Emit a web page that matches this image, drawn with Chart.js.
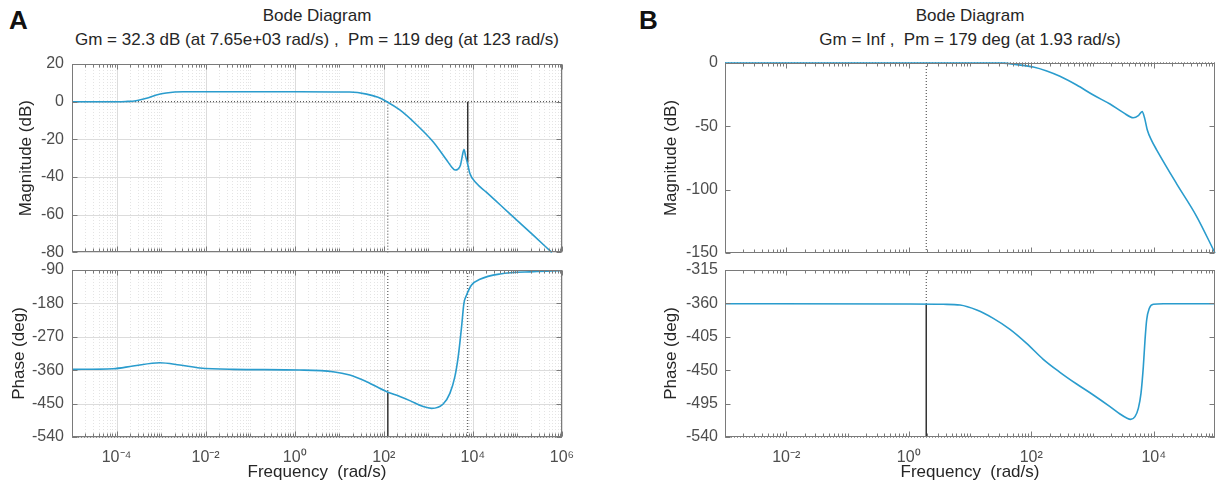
<!DOCTYPE html>
<html>
<head>
<meta charset="utf-8">
<script src="https://cdn.jsdelivr.net/npm/chart.js@4.4.1/dist/chart.umd.min.js"></script>
<style>
  body { margin: 0; background: #fff; width: 1216px; height: 491px; position: relative; overflow: hidden;
         font-family: "Liberation Sans", Arial, sans-serif; }
  canvas { position: absolute; }
  .ttl { position: absolute; color: #262626; font-size: 17px; line-height: 20px; white-space: pre; transform: translateX(-50%); }
  .tag { position: absolute; color: #111; font-size: 26px; line-height: 28px; font-weight: bold; }
</style>
</head>
<body>
<div class="tag" style="left:9px;top:6px">A</div>
<div class="ttl" style="left:317px;top:6px">Bode Diagram</div>
<div class="ttl" style="left:317px;top:30px">Gm = 32.3 dB (at 7.65e+03 rad/s) ,  Pm = 119 deg (at 123 rad/s)</div>
<div class="tag" style="left:639px;top:6px">B</div>
<div class="ttl" style="left:970px;top:6px">Bode Diagram</div>
<div class="ttl" style="left:970px;top:30px">Gm = Inf ,  Pm = 179 deg (at 1.93 rad/s)</div>

<canvas id="aMag" width="610" height="230" style="left:0;top:40px"></canvas>
<canvas id="aPhase" width="610" height="241" style="left:0;top:250px"></canvas>
<canvas id="bMag" width="606" height="230" style="left:610px;top:40px"></canvas>
<canvas id="bPhase" width="606" height="241" style="left:610px;top:250px"></canvas>

<script>
// ---- panel A data ----
const freqAMag = [1e-5, 1e-4, 1.6e-4, 2.75e-4, 4.7e-4, 7.8e-4, 1.3e-3, 3.1e-3, 1e-2, 1.3, 17, 41, 74, 117, 229, 537,
                  1290, 2570, 3300, 3980, 4500, 5250, 6030, 6310, 6920, 7590, 8510, 1.2e4, 2e4, 4.07e4, 2.29e5, 5.89e5];
const magA = [0, 0, 0.1, 0.5, 1.8, 3.5, 4.6, 5.3, 5.3, 5.3, 5.1, 4.0, 2.3, 0, -4.4, -12.1,
              -21.4, -31, -34.5, -36.3, -36.0, -33.7, -26.7, -25.4, -29.3, -32.8, -38, -43.3, -48, -54.7, -71, -80];
const freqAPh = [1e-5, 8.3e-5, 2.34e-4, 9.3e-4, 2.63e-3, 7.4e-3, 0.041, 1.3, 7.2, 17.2, 41, 117, 229, 384, 764, 1180,
                 2150, 3040, 3940, 4680, 5570, 6280, 7210, 9330, 1.44e4, 4.05e4, 2.27e5, 1e6];
const phaseA = [-357.7, -356, -348.7, -339.8, -346, -354, -357.7, -359.5, -364, -373, -391, -418, -431, -442, -458, -462.8,
                -451, -422.4, -377.5, -323.6, -242.8, -179.8, -157.4, -130.4, -115, -100.8, -94.5, -92];
const gmFreqA = 7650, gmA = 32.3, pmFreqA = 123, pmA = 119;

// ---- panel B data ----
const freqBMag = [1e-3, 1, 35, 58, 108, 179, 294, 551, 1032, 1930, 3190, 4630, 5600, 6460, 7110, 7850, 9250,
                  1.12e4, 2.34e4, 5e4, 1e5];
const magB = [0, 0, -0.1, -1.3, -3.2, -6.3, -10.5, -17.4, -25.3, -32.4, -39.2, -43.2, -41.6, -38.4, -43.7, -52.9, -61.3,
              -68.7, -95, -121, -150];
const freqBPh = [1e-3, 1, 3.67, 6.87, 12.9, 24, 45, 84, 157, 294, 551, 1032, 1930, 2810, 3610, 4200, 4940, 5600,
                 6190, 6760, 7200, 7660, 8470, 9840, 1.43e4, 1e5];
const phaseB = [-360.5, -360.8, -361.2, -362.2, -368.9, -380.1, -394.9, -413.8, -435.3, -452.8, -468.6, -483.4, -499.1,
                -509, -514.4, -516.2, -512.6, -501.4, -481.2, -445.2, -409.3, -382.4, -366.6, -361.2, -360.5, -360.5];
const pmFreqB = 1.93, pmB = 179;

// ---- ticks ----
const xTicksA = [1e-4, 1e-2, 1, 1e2, 1e4, 1e6];
const xTicksB = [1e-2, 1, 1e2, 1e4];
const magTicksA = [20, 0, -20, -40, -60, -80];
const phTicksA = [-90, -180, -270, -360, -450, -540];
const magTicksB = [0, -50, -100, -150];
const phTicksB = [-315, -360, -405, -450, -495, -540];

const curveColor = '#2a9ccd';
const tickColor = '#4d4d4d';
const labelColor = '#262626';
const boxColor = '#7a7a7a';

Chart.defaults.font.family = '"Liberation Sans", Arial, sans-serif';

function minorTicks(e0, e1, major) {
  const out = [];
  for (let e = e0; e <= e1; e++) {
    for (let k = 1; k < 10; k++) {
      const v = k * Math.pow(10, e);
      if (!major.some(m => Math.abs(Math.log10(m) - Math.log10(v)) < 1e-9)) out.push(v);
    }
  }
  return out;
}

const sup = {'-': '\u207B', '0': '\u2070', '1': '\u00B9', '2': '\u00B2', '3': '\u00B3', '4': '\u2074',
             '5': '\u2075', '6': '\u2076', '7': '\u2077', '8': '\u2078', '9': '\u2079'};
function powLabel(v) {
  return '10' + String(Math.round(Math.log10(v))).split('').map(c => sup[c]).join('');
}

function pts(xs, ys) { return xs.map((x, i) => ({x: x, y: ys[i]})); }

function curve(xs, ys) {
  return { data: pts(xs, ys), borderColor: curveColor, borderWidth: 1.6, pointRadius: 0,
           cubicInterpolationMode: 'monotone', clip: 3 };
}
function marker(p, solid) {
  return { data: p, borderColor: solid ? '#333' : '#3a3a3a', borderWidth: solid ? 1.5 : 1,
           borderDash: solid ? [] : [1, 2], pointRadius: 0, clip: 3 };
}

// box, inner ticks and (optional) grid like the matlab axes
const bodeBox = {
  id: 'bodeBox',
  beforeDatasetsDraw(chart, args, opts) {
    if (!opts.grid) return;
    const {ctx, chartArea: a, scales: {x, y}} = chart;
    ctx.save();
    ctx.lineWidth = 1;
    ctx.strokeStyle = '#e4e4e4';
    ctx.setLineDash([1, 2]);
    opts.minorX.forEach(v => {
      const px = Math.round(x.getPixelForValue(v)) + 0.5;
      ctx.beginPath(); ctx.moveTo(px, a.top); ctx.lineTo(px, a.bottom); ctx.stroke();
    });
    ctx.setLineDash([]);
    ctx.strokeStyle = '#dcdcdc';
    x.ticks.forEach(t => {
      const px = Math.round(x.getPixelForValue(t.value)) + 0.5;
      ctx.beginPath(); ctx.moveTo(px, a.top); ctx.lineTo(px, a.bottom); ctx.stroke();
    });
    y.ticks.forEach(t => {
      const py = Math.round(y.getPixelForValue(t.value)) + 0.5;
      ctx.beginPath(); ctx.moveTo(a.left, py); ctx.lineTo(a.right, py); ctx.stroke();
    });
    ctx.restore();
  },
  afterDatasetsDraw(chart, args, opts) {
    const {ctx, chartArea: a, scales: {x, y}} = chart;
    ctx.save();
    ctx.strokeStyle = boxColor;
    ctx.lineWidth = 1;
    const l = Math.round(a.left) + 0.5, r = Math.round(a.right) - 0.5;
    const t = Math.round(a.top) + 0.5, b = Math.round(a.bottom) - 0.5;
    ctx.strokeRect(l, t, r - l, b - t);
    ctx.beginPath();
    const vt = (v, len) => {
      const px = Math.round(x.getPixelForValue(v)) + 0.5;
      ctx.moveTo(px, b); ctx.lineTo(px, b - len);
      ctx.moveTo(px, t); ctx.lineTo(px, t + len);
    };
    x.ticks.forEach(tk => vt(tk.value, 5));
    opts.minorX.forEach(v => vt(v, 3));
    y.ticks.forEach(tk => {
      const py = Math.round(y.getPixelForValue(tk.value)) + 0.5;
      ctx.moveTo(l, py); ctx.lineTo(l + 5, py);
      ctx.moveTo(r, py); ctx.lineTo(r - 5, py);
    });
    ctx.stroke();
    ctx.restore();
  }
};

function bodeChart(id, o) {
  return new Chart(document.getElementById(id), {
    type: 'line',
    data: { datasets: o.datasets },
    options: {
      responsive: false,
      animation: false,
      events: [],
      layout: { padding: o.padding },
      plugins: {
        legend: { display: false },
        tooltip: { enabled: false },
        bodeBox: { grid: o.grid, minorX: o.minorX }
      },
      scales: {
        x: {
          type: 'logarithmic', min: o.xMin, max: o.xMax,
          afterBuildTicks: s => { s.ticks = o.xTicks.map(v => ({value: v})); },
          afterFit: s => { s.height = o.xHeight; },
          grid: { display: false, drawTicks: false },
          border: { display: false },
          ticks: { display: o.xLabels, autoSkip: false, maxRotation: 0, padding: 11,
                   color: tickColor, font: { size: 16 }, callback: v => powLabel(v) },
          title: { display: o.xLabels, text: 'Frequency  (rad/s)', color: labelColor,
                   font: { size: 17 }, padding: { top: 0, bottom: 8 } }
        },
        y: {
          type: 'linear', min: o.yMin, max: o.yMax,
          afterBuildTicks: s => { s.ticks = o.yTicks.map(v => ({value: v})); },
          afterFit: s => { s.width = o.yWidth; },
          grid: { display: false, drawTicks: false },
          border: { display: false },
          ticks: { padding: o.yPad, color: tickColor, font: { size: 16 } },
          title: { display: true, text: o.yTitle, color: labelColor, font: { size: 17 },
                   padding: { top: o.titlePad, bottom: 0 } }
        }
      }
    },
    plugins: [bodeBox]
  });
}

const minorA = minorTicks(-5, 5, xTicksA);
const minorB = minorTicks(-3, 4, xTicksB);
const pmPhaseA = -540 + pmA, pmPhaseB = -540 + pmB;

bodeChart('aMag', {
  datasets: [
    curve(freqAMag, magA),
    marker([{x: 1e-5, y: 0}, {x: 1e6, y: 0}]),
    marker([{x: pmFreqA, y: 0}, {x: pmFreqA, y: -80}]),
    marker([{x: gmFreqA, y: 0}, {x: gmFreqA, y: -gmA}], true),
    marker([{x: gmFreqA, y: -gmA}, {x: gmFreqA, y: -80}])
  ],
  xMin: 1e-5, xMax: 1e6, xTicks: xTicksA, minorX: minorA, xLabels: false, xHeight: 0,
  yMin: -80, yMax: 20, yTicks: magTicksA, yWidth: 72, yPad: 8, yTitle: 'Magnitude (dB)', titlePad: 16.5,
  padding: { left: 0, top: 24, right: 48, bottom: 16 }, grid: true
});

bodeChart('aPhase', {
  datasets: [
    curve(freqAPh, phaseA),
    marker([{x: pmFreqA, y: -90}, {x: pmFreqA, y: pmPhaseA}]),
    marker([{x: pmFreqA, y: pmPhaseA}, {x: pmFreqA, y: -540}], true),
    marker([{x: gmFreqA, y: -90}, {x: gmFreqA, y: -540}]),
    marker([{x: 1e-5, y: -540}, {x: 1e6, y: -540}])
  ],
  xMin: 1e-5, xMax: 1e6, xTicks: xTicksA, minorX: minorA, xLabels: true, xHeight: 54,
  yMin: -540, yMax: -90, yTicks: phTicksA, yWidth: 72, yPad: 8, yTitle: 'Phase (deg)', titlePad: 9,
  padding: { left: 0, top: 20, right: 48, bottom: 0 }, grid: true
});

bodeChart('bMag', {
  datasets: [
    curve(freqBMag, magB),
    marker([{x: 1e-3, y: 0}, {x: 1e5, y: 0}]),
    marker([{x: pmFreqB, y: 0}, {x: pmFreqB, y: -150}])
  ],
  xMin: 1e-3, xMax: 1e5, xTicks: xTicksB, minorX: minorB, xLabels: false, xHeight: 0,
  yMin: -150, yMax: 0, yTicks: magTicksB, yWidth: 115, yPad: 7, yTitle: 'Magnitude (dB)', titlePad: 51,
  padding: { left: 0, top: 23, right: 1, bottom: 17 }, grid: false
});

bodeChart('bPhase', {
  datasets: [
    curve(freqBPh, phaseB),
    marker([{x: pmFreqB, y: -315}, {x: pmFreqB, y: pmPhaseB}]),
    marker([{x: pmFreqB, y: pmPhaseB}, {x: pmFreqB, y: -540}], true),
    marker([{x: 1e-3, y: -540}, {x: 1e5, y: -540}])
  ],
  xMin: 1e-3, xMax: 1e5, xTicks: xTicksB, minorX: minorB, xLabels: true, xHeight: 54,
  yMin: -540, yMax: -315, yTicks: phTicksB, yWidth: 115, yPad: 7, yTitle: 'Phase (deg)', titlePad: 51,
  padding: { left: 0, top: 20, right: 1, bottom: 0 }, grid: false
});
</script>
</body>
</html>
